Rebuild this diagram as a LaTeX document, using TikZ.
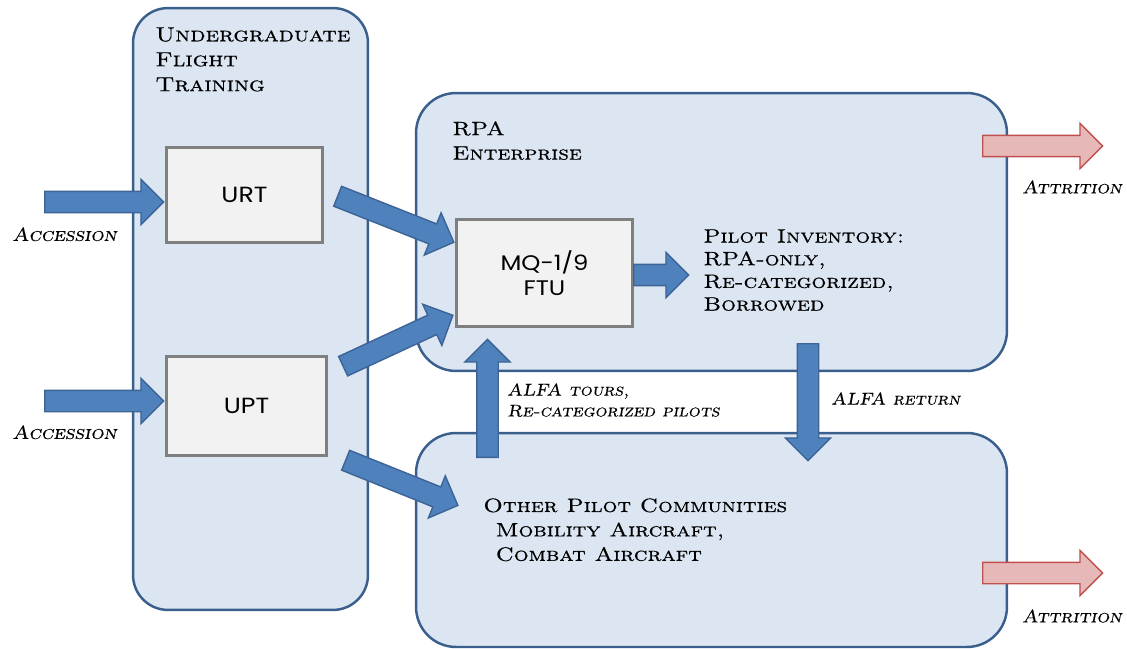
\documentclass[tikz,border=0pt]{standalone}
\usepackage{fontspec}
\usetikzlibrary{shapes.arrows}
\newfontfamily\capsfont{lmromancaps10-regular}[Extension=.otf, FakeStretch=1.2, FakeBold=0.6]
\newfontfamily\capsslfont{lmromancaps10-oblique}[Extension=.otf, FakeStretch=1.1, FakeBold=0.3]
\newfontfamily\unitfont{Poppins}[FakeStretch=1.15]
\definecolor{groupfill}{RGB}{220,230,242}
\definecolor{groupline}{RGB}{58,95,140}
\definecolor{unitfill}{RGB}{242,242,242}
\definecolor{unitline}{RGB}{127,127,127}
\definecolor{flowfill}{RGB}{79,129,189}
\definecolor{flowline}{RGB}{60,100,150}
\definecolor{lossfill}{RGB}{230,185,184}
\definecolor{lossline}{RGB}{192,80,77}
\tikzset{group/.style={draw=groupline, fill=groupfill, line width=1.4pt, rounded corners=0.8cm},
         unit/.style={draw=unitline, fill=unitfill, line width=1.7pt, align=center, font=\unitfont\fontsize{12.5}{14}\selectfont},
         flow/.style={single arrow, draw=flowline, fill=flowfill, line width=0.8pt, inner sep=0.2cm, single arrow head extend=0.24cm, anchor=tail},
         loss/.style={flow, draw=lossline, fill=lossfill},
         heading/.style={font=\capsfont\fontsize{11}{13.9}\selectfont, align=left, inner sep=0pt, anchor=north west},
         note/.style={font=\capsslfont\fontsize{10.8}{12}\selectfont, align=left, inner sep=0pt, anchor=north west},
        }

\begin{document}
\begin{tikzpicture}[x=0.02cm,y=-0.02cm]
        \useasboundingbox (0,0) rectangle (1127,649);
        % groups
        \node[group, rounded corners=0.7cm, minimum width=4.7cm, minimum height=12.04cm](uft)at(250.5,309){};
        \node[group, minimum width=11.82cm, minimum height=5.56cm](rpa)at(711.5,232){};
        \node[group, minimum width=11.82cm, minimum height=4.28cm](other)at(711.5,540){};
        % training units
        \node[unit, minimum width=3.14cm, minimum height=1.92cm](urt)at(244.5,195){URT};
        \node[unit, minimum width=3.22cm, minimum height=2cm](upt)at(246.5,406){UPT};
        \node[unit, minimum width=3.54cm, minimum height=2.16cm, font=\unitfont\fontsize{12}{14.2}\selectfont](ftu)at(544.5,273){MQ-1/9\\FTU};
        % flows
        \node[flow, minimum height=2.38cm](acc1)at(44,202){};
        \node[flow, minimum height=2.38cm](acc2)at(44,401){};
        \node[flow, minimum height=2.5cm, rotate=-21.6](urt-ftu)at(337,196){};
        \node[flow, minimum height=2.42cm, rotate=24.9](upt-ftu)at(342.5,366.5){};
        \node[flow, minimum height=2.42cm, rotate=-21.9](upt-other)at(345,460){};
        \node[flow, minimum height=1.1cm](ftu-inv)at(633,275){};
        \node[flow, minimum height=2.36cm, rotate=90](tours)at(487.5,458){};
        \node[flow, minimum height=2.34cm, rotate=-90](return)at(808,343){};
        \node[loss, minimum height=2.4cm](att1)at(982,146){};
        \node[loss, minimum height=2.4cm](att2)at(982,573){};
        % texts
        \node[heading, font=\capsfont\fontsize{11.6}{14.2}\selectfont](uft-title)at(155,27){Undergraduate\\Flight\\Training};
        \node[heading](rpa-title)at(452,121){RPA\\Enterprise};
        \node[heading, font=\capsfont\fontsize{11}{12.9}\selectfont](inventory)at(703,229){Pilot Inventory:\\RPA-only,\\Re-categorized,\\Borrowed};
        \node[heading](other-title)at(483,498){Other Pilot Communities\\\hspace*{7pt}Mobility Aircraft,\\\hspace*{7pt}Combat Aircraft};
        \node[note](acc1-label)at(12,227){Accession};
        \node[note](acc2-label)at(12,425){Accession};
        \node[note, anchor=north east, font=\capsslfont\fontsize{10.4}{12}\selectfont](att1-label)at(1122,180){Attrition};
        \node[note, anchor=north east, font=\capsslfont\fontsize{10.4}{12}\selectfont](att2-label)at(1122,609){Attrition};
        \node[note, font=\capsslfont\fontsize{9.7}{11.9}\selectfont](tours-label)at(507,383){ALFA tours,\\Re-categorized pilots};
        \node[note, font=\capsslfont\fontsize{9.7}{11.9}\selectfont](return-label)at(831,392){ALFA return};
    \end{tikzpicture}
\end{document}
